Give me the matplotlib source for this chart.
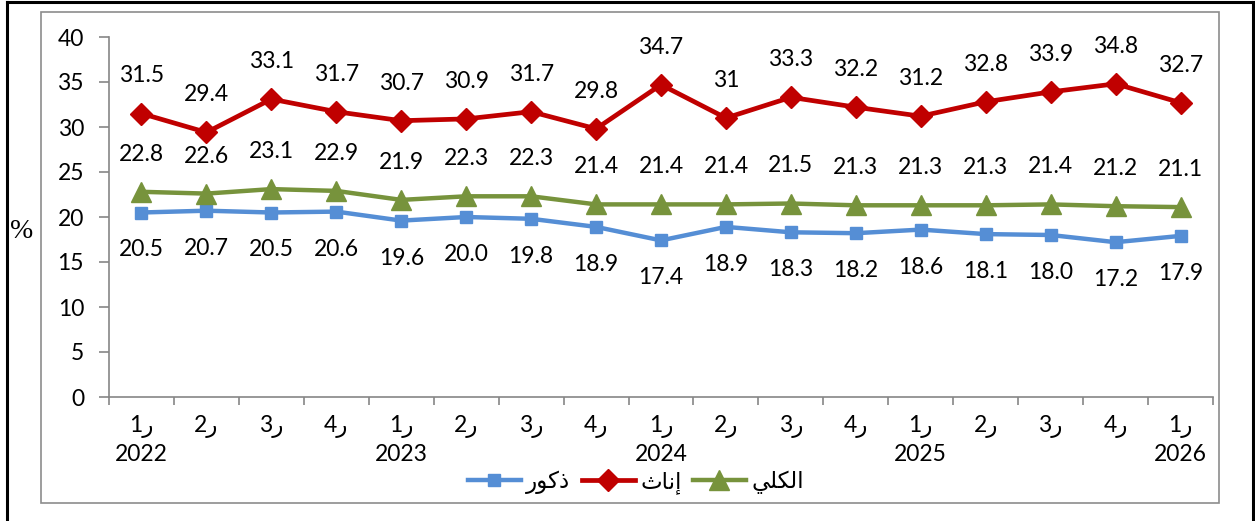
import matplotlib
matplotlib.use("Agg")
import matplotlib.pyplot as plt
from matplotlib.lines import Line2D
from matplotlib.patches import Rectangle

plt.rcParams['font.family'] = ['Lato', 'DejaVu Sans']

# quarters (visual order: digit then "ر") and years under first quarter
quarters = ["1ر", "2ر", "3ر", "4ر", "1ر", "2ر", "3ر", "4ر", "1ر",
            "2ر", "3ر", "4ر", "1ر", "2ر", "3ر", "4ر", "1ر"]
years = ["2022", "", "", "", "2023", "", "", "", "2024",
         "", "", "", "2025", "", "", "", "2026"]

female = [31.5, 29.4, 33.1, 31.7, 30.7, 30.9, 31.7, 29.8, 34.7,
          31.0, 33.3, 32.2, 31.2, 32.8, 33.9, 34.8, 32.7]
total = [22.8, 22.6, 23.1, 22.9, 21.9, 22.3, 22.3, 21.4, 21.4,
         21.4, 21.5, 21.3, 21.3, 21.3, 21.4, 21.2, 21.1]
male = [20.5, 20.7, 20.5, 20.6, 19.6, 20.0, 19.8, 18.9, 17.4,
        18.9, 18.3, 18.2, 18.6, 18.1, 18.0, 17.2, 17.9]

# legend names, written in shaped presentation forms, visual order
lbl_male = "\uFEAD\uFEEE\uFEDB\uFEAB"            # ذكور
lbl_female = "\uFE99\uFE8E\uFEE7\uFE87"          # إناث
lbl_total = "\uFEF2\uFEE0\uFEDC\uFEDF\uFE8D"     # الكلي

BLUE = "#558ED5"
RED = "#C00000"
GREEN = "#77933C"
GREY = "#868686"
FS = 16.5

fig = plt.figure(figsize=(12.55, 5.21), dpi=100)
W, H = 1255, 521

# outer black frame (bottom is cut off) and grey chart-area box
fig.add_artist(Line2D([7 / W, 7 / W], [0, 1 - 1.5 / H], color="black", lw=2.2))
fig.add_artist(Line2D([1253 / W, 1253 / W], [0, 1 - 1.5 / H], color="black", lw=2.2))
fig.add_artist(Line2D([7 / W, 1253 / W], [1 - 1.5 / H, 1 - 1.5 / H], color="black", lw=2.2))
fig.add_artist(Rectangle((41 / W, 1 - 503 / H), (1219 - 41) / W, (503 - 12) / H,
                         transform=fig.transFigure, fill=False,
                         edgecolor="#8C8C8C", lw=1.2))

ax = fig.add_axes([109 / W, 1 - 397 / H, (1213 - 109) / W, (397 - 37) / H])
x = list(range(len(quarters)))

ax.plot(x, male, color=BLUE, lw=3.2, marker="s", ms=9, zorder=3)
ax.plot(x, female, color=RED, lw=3.4, marker="D", ms=11, zorder=3)
ax.plot(x, total, color=GREEN, lw=3.2, marker="^", ms=14, zorder=3)

for xi, v in zip(x, female):
    ax.annotate(f"{v:g}", (xi, v), xytext=(0, 27), textcoords="offset points",
                ha="center", va="center", fontsize=FS)
for xi, v in zip(x, total):
    ax.annotate(f"{v:.1f}", (xi, v), xytext=(0, 27), textcoords="offset points",
                ha="center", va="center", fontsize=FS)
for xi, v in zip(x, male):
    ax.annotate(f"{v:.1f}", (xi, v), xytext=(0, -27), textcoords="offset points",
                ha="center", va="center", fontsize=FS)

ax.set_xlim(-0.5, len(quarters) - 0.5)
ax.set_ylim(0, 40)
ax.set_yticks(range(0, 41, 5))
ax.tick_params(axis="y", length=7, width=1.2, color=GREY, pad=11, labelsize=FS)

ax.set_xticks([i - 0.5 for i in range(len(quarters) + 1)])
ax.set_xticklabels([])
ax.tick_params(axis="x", which="major", length=6, width=1.2, color=GREY)
ax.set_xticks(x, minor=True)
ax.set_xticklabels([q + ("\n" + y if y else "") for q, y in zip(quarters, years)],
                   minor=True, fontsize=FS, va="top")
ax.tick_params(axis="x", which="minor", length=0, pad=13)
for lab in ax.get_xticklabels(minor=True):
    lab.set_linespacing(1.35)

for s in ("top", "right"):
    ax.spines[s].set_visible(False)
for s in ("left", "bottom"):
    ax.spines[s].set_color(GREY)
    ax.spines[s].set_linewidth(1.2)

fig.text(22 / W, 1 - 231 / H, "%", ha="center", va="center", fontsize=20,
         family="Liberation Serif")

handles = [
    Line2D([], [], color=BLUE, lw=3.2, marker="s", ms=9),
    Line2D([], [], color=RED, lw=3.4, marker="D", ms=11),
    Line2D([], [], color=GREEN, lw=3.2, marker="^", ms=14),
]
fig.legend(handles, [lbl_male, lbl_female, lbl_total], loc="center",
           bbox_to_anchor=(636 / W, 1 - 482 / H), ncol=3, frameon=False,
           fontsize=FS, handlelength=2.3, columnspacing=0.5, handletextpad=0.25)

fig.savefig("out.png", dpi=100)
